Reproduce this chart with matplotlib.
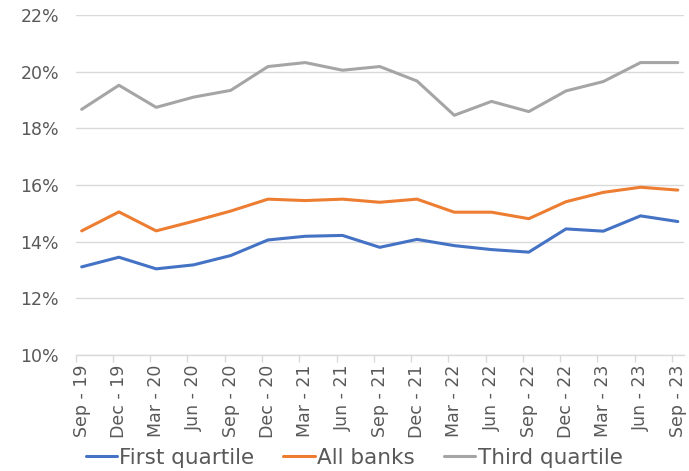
import numpy as np
import matplotlib
matplotlib.use("Agg")
import matplotlib.pyplot as plt
from matplotlib.ticker import FuncFormatter

# quarter labels
quarters = ["Sep - 19", "Dec - 19", "Mar - 20", "Jun - 20", "Sep - 20", "Dec - 20",
            "Mar - 21", "Jun - 21", "Sep - 21", "Dec - 21", "Mar - 22", "Jun - 22",
            "Sep - 22", "Dec - 22", "Mar - 23", "Jun - 23", "Sep - 23"]

# values in %
first_quartile = [13.11, 13.45, 13.04, 13.18, 13.51, 14.06, 14.19, 14.22, 13.80,
                  14.08, 13.86, 13.72, 13.63, 14.45, 14.37, 14.91, 14.71]
all_banks = [14.38, 15.05, 14.38, 14.72, 15.08, 15.50, 15.45, 15.50, 15.39,
             15.50, 15.04, 15.04, 14.81, 15.41, 15.74, 15.92, 15.82]
third_quartile = [18.67, 19.52, 18.74, 19.10, 19.34, 20.18, 20.32, 20.05, 20.18,
                  19.67, 18.46, 18.95, 18.59, 19.32, 19.65, 20.32, 20.32]

txt = "#595959"
grid_c = "#d9d9d9"
plt.rcParams['font.family'] = ['DejaVu Sans']

fig = plt.figure(figsize=(6.89, 4.71), dpi=100)
ax = fig.add_axes([0.1099, 0.2463, 0.8825, 0.7219])

x = np.arange(len(quarters))
ax.plot(x, first_quartile, color="#4472c4", lw=2.2, label="First quartile", solid_capstyle="round")
ax.plot(x, all_banks, color="#ed7d31", lw=2.2, label="All banks", solid_capstyle="round")
ax.plot(x, third_quartile, color="#a5a5a5", lw=2.2, label="Third quartile", solid_capstyle="round")

ax.set_xlim(-0.16, len(quarters) - 1 + 0.16)
ax.set_ylim(10, 22)
ax.set_yticks(np.arange(10, 23, 2))
ax.yaxis.set_major_formatter(FuncFormatter(lambda v, p: "%d%%" % v))
ax.grid(axis="y", color=grid_c, lw=1)
ax.set_axisbelow(True)

ax.set_xticks(x)
ax.set_xticklabels(quarters, rotation=90, fontsize=12.5, color=txt)
ax.set_xticks(x - 0.16, minor=True)
ax.tick_params(axis="x", which="major", length=0, pad=7)
ax.tick_params(axis="x", which="minor", length=5, color=grid_c, width=1)
ax.tick_params(axis="y", length=0, labelsize=12.5, labelcolor=txt, pad=12)

for s in ["top", "right", "left"]:
    ax.spines[s].set_visible(False)
ax.spines["bottom"].set_color(grid_c)
ax.spines["bottom"].set_linewidth(1)

leg = fig.legend(loc="center", bbox_to_anchor=(0.514, 0.028), ncol=3, frameon=False,
                 fontsize=15.5, handlelength=1.45, handletextpad=0.12, columnspacing=1.35)
for t in leg.get_texts():
    t.set_color(txt)

fig.savefig("out.png", dpi=100)
